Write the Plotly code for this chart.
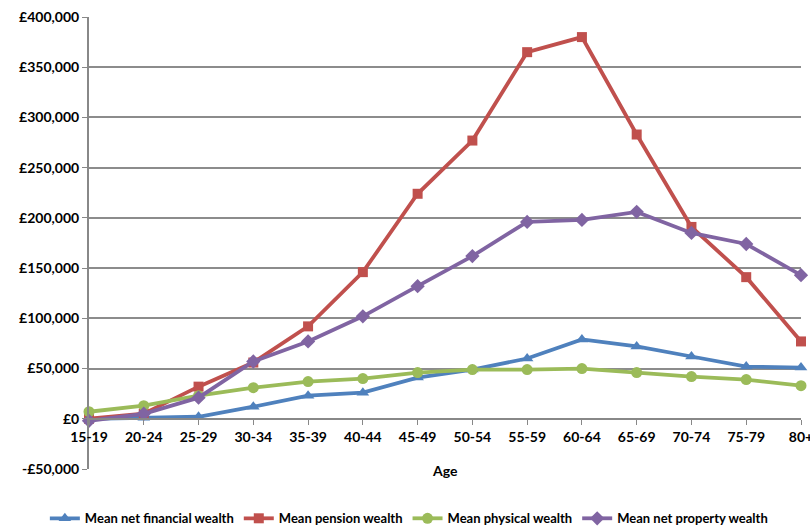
import plotly.graph_objects as go

ages = ["15-19", "20-24", "25-29", "30-34", "35-39", "40-44", "45-49",
        "50-54", "55-59", "60-64", "65-69", "70-74", "75-79", "80+"]
financial = [0, 1000, 2000, 12000, 23000, 26000, 41000, 49000, 60000, 79000, 72000, 62000, 52000, 51000]
pension = [0, 5000, 32000, 56000, 92000, 146000, 224000, 277000, 365000, 380000, 283000, 191000, 141000, 77000]
physical = [7000, 13000, 23000, 31000, 37000, 40000, 46000, 49000, 49000, 50000, 46000, 42000, 39000, 33000]
property_ = [-2000, 5000, 21000, 57000, 77000, 102000, 132000, 162000, 196000, 198000, 206000, 185000, 174000, 143000]

series = [
    ("Mean net financial wealth", financial, "#4F81BD", "triangle-up", 11),
    ("Mean pension wealth", pension, "#C0504D", "square", 10),
    ("Mean physical wealth", physical, "#9BBB59", "circle", 11),
    ("Mean net property wealth", property_, "#8064A2", "diamond", 11),
]

FONT = "Lato, 'Open Sans', sans-serif"

fig = go.Figure()
for name, vals, color, sym, size in series:
    fig.add_trace(go.Scatter(
        x=ages, y=vals, name=name, mode="lines+markers",
        line=dict(color=color, width=3.8),
        marker=dict(symbol=sym, size=size, color=color),
        cliponaxis=False,
    ))

yt = list(range(-50000, 400001, 50000))
ytext = [("-£{:,}".format(-v) if v < 0 else "£{:,}".format(v)) for v in yt]

fig.update_layout(
    width=810, height=527,
    margin=dict(l=89, r=9, t=17, b=58, autoexpand=False),
    paper_bgcolor="white", plot_bgcolor="white",
    font=dict(family=FONT, size=14, color="black"),
    showlegend=True,
    legend=dict(orientation="h", x=-0.062, xanchor="left", y=-0.076, yanchor="top",
                font=dict(family=FONT, size=13, color="black", weight="bold"),
                itemwidth=30, tracegroupgap=0, traceorder="normal"),
    xaxis=dict(
        type="category", range=[0, 13],
        anchor="free", position=1/9, automargin=False,
        showgrid=False, showline=True, linecolor="#888888", linewidth=2,
        ticks="outside", ticklen=5, tickcolor="#888888", tickwidth=1,
        tickfont=dict(family=FONT, size=14, color="black", weight="bold"),
        zeroline=False,
    ),
    yaxis=dict(
        range=[-50000, 400000], domain=[0, 1], automargin=False,
        tickvals=yt, ticktext=ytext,
        showgrid=True, gridcolor="#8c8c8c", gridwidth=1.5,
        zeroline=False,
        showline=True, linecolor="#888888", linewidth=2,
        ticks="outside", ticklen=5, tickcolor="#888888",
        tickfont=dict(family=FONT, size=14, color="black", weight="bold"),
    ),
)

fig.add_annotation(text="<b>Age</b>", xref="paper", yref="paper", x=0.5, y=-0.027,
                   showarrow=False, font=dict(family=FONT, size=14, color="black"))

fig.write_html("out.html", config={"displayModeBar": False},
               post_script="document.body.style.margin='0px';document.body.style.overflow='hidden';")
